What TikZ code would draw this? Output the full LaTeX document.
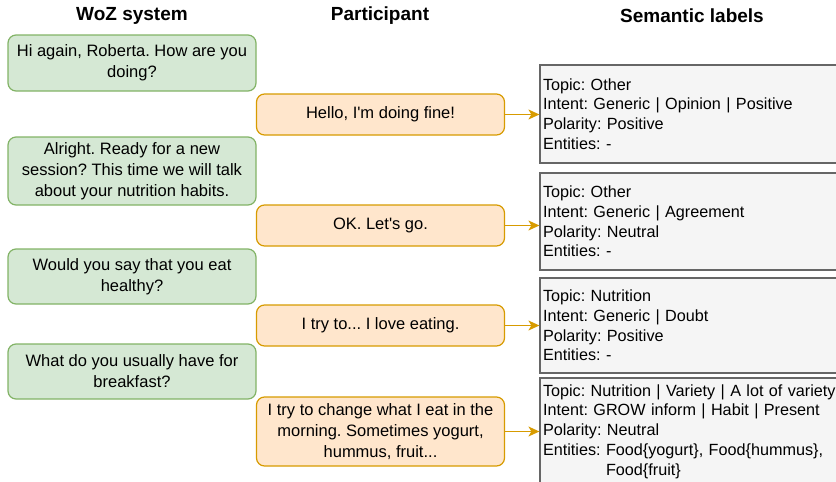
\documentclass[tikz,border=0pt]{standalone}
\usepackage{fontspec}
\setmainfont{Liberation Sans}[Ligatures=TeXOff]
\usetikzlibrary{arrows.meta}
\frenchspacing

\definecolor{wozfill}{HTML}{D5E8D4}
\definecolor{wozline}{HTML}{82B366}
\definecolor{partfill}{HTML}{FFE6CC}
\definecolor{partline}{HTML}{D79B00}
\definecolor{semfill}{HTML}{F5F5F5}
\definecolor{semline}{HTML}{666666}

\begin{document}
\begin{tikzpicture}[x=1pt,y=-1pt,
    header/.style={font=\fontsize{19}{22}\selectfont\bfseries},
    turn/.style={rounded corners=8pt, line width=1.2pt, inner sep=0pt,
        minimum width=248pt, align=center,
        font=\fontsize{16.5}{21}\selectfont},
    wozbox/.style={turn, draw=wozline, fill=wozfill},
    partbox/.style={turn, draw=partline, fill=partfill},
    sembox/.style={draw=semline, fill=semfill, line width=1.2pt,
        inner xsep=3pt, inner ysep=0pt, text width=304pt, align=left,
        font=\fontsize{16.2}{19.8}\selectfont},
    flow/.style={draw=partline, line width=1.2pt,
        -{Stealth[length=11pt,width=10pt,inset=3pt]}}]
    \useasboundingbox (0,0) rectangle (836,482);

    % column titles
    \node[header] (hwoz) at (132,16) {WoZ system};
    \node[header] (hpart) at (380,16) {Participant};
    \node[header] (hsem) at (692,16) {Semantic labels};

    % WoZ system turns
    \node[wozbox, minimum height=56pt] (woz1) at (132,63)
        {Hi again, Roberta. How are you\\doing?};
    \node[wozbox, minimum height=68pt] (woz2) at (132,171)
        {Alright. Ready for a new\\session? This time we will talk\\about your nutrition habits.};
    \node[wozbox, minimum height=55pt] (woz3) at (132,276.5)
        {Would you say that you eat\\healthy?};
    \node[wozbox, minimum height=55pt] (woz4) at (132,371.5)
        {What do you usually have for\\breakfast?};

    % participant turns
    \node[partbox, minimum height=41pt] (part1) at (380.5,114.5)
        {Hello, I'm doing fine!};
    \node[partbox, minimum height=41pt] (part2) at (380.5,225.5)
        {OK. Let's go.};
    \node[partbox, minimum height=41pt] (part3) at (380.5,325.5)
        {I try to... I love eating.};
    \node[partbox, minimum height=69pt] (part4) at (380.5,431.5)
        {I try to change what I eat in the\\morning. Sometimes yogurt,\\hummus, fruit...};

    % semantic labels
    \node[sembox, minimum height=98pt] (sem1) at (695,114)
        {Topic: Other\\Intent: Generic | Opinion | Positive\\Polarity: Positive\\Entities: -};
    \node[sembox, minimum height=97pt] (sem2) at (695,221.5)
        {Topic: Other\\Intent: Generic | Agreement\\Polarity: Neutral\\Entities: -};
    \node[sembox, minimum height=95pt] (sem3) at (695,325.5)
        {Topic: Nutrition\\Intent: Generic | Doubt\\Polarity: Positive\\Entities: -};
    \node[sembox, minimum height=107pt] (sem4) at (695,431.5)
        {Topic: Nutrition | Variety | A lot of variety\\Intent: GROW inform | Habit | Present\\Polarity: Neutral\\Entities: Food\{yogurt\}, Food\{hummus\},\\\phantom{Entities: }Food\{fruit\}};

    % labelling arrows
    \draw[flow] (part1) -- (part1 -| sem1.west);
    \draw[flow] (part2) -- (part2 -| sem2.west);
    \draw[flow] (part3) -- (part3 -| sem3.west);
    \draw[flow] (part4) -- (part4 -| sem4.west);
\end{tikzpicture}
\end{document}
